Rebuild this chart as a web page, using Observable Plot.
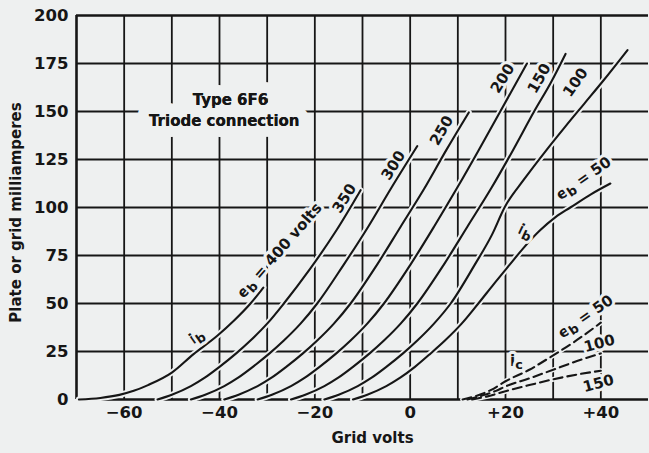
<!DOCTYPE html>
<html><head><meta charset="utf-8">
<script src="https://cdn.jsdelivr.net/npm/d3@7"></script>
<script src="https://cdn.jsdelivr.net/npm/@observablehq/plot@0.6"></script>
<style>
html,body{margin:0;padding:0;background:#eef0f0;}
#chart svg{display:block;}
</style></head><body><div id="chart"></div>
<script>
const BG = "#eef0f0";
const INK = "#161616";

// Plate current ib curves, [grid volts, plate mA], one per plate voltage eb
const ib400 = [[-69.5,0],[-65,0.8],[-61,2.4],[-58,4.5],[-55,7.5],[-50,14],[-45.5,23.5],[-40.4,33.3],[-37,41],[-33.5,50],[-30.8,58.3]];
const ib350 = [[-53,0],[-50,2.5],[-46,7],[-43,11.5],[-40,17],[-36.5,24],[-33.5,30.7],[-30,39.5],[-26.5,50],[-21,68],[-15.5,88],[-10.4,109]];
const ib300 = [[-46,0],[-43,2.5],[-39,7],[-36,11.5],[-33,17],[-29.5,24],[-26.5,30.7],[-23,39.5],[-19.5,50],[-14,70],[-8.8,90],[-4,110],[1.5,132]];
const ib250 = [[-39,0],[-36,2.5],[-32,7],[-29,11.5],[-26,17],[-22.5,24],[-19.5,30.7],[-16,39.5],[-12.5,50],[-7,70],[-2,90],[3,110],[7.6,130],[12.3,149.5]];
const ib200 = [[-32,0],[-29,2.5],[-25,7],[-22,11.5],[-19,17],[-15.5,24],[-12.5,30.7],[-9,39.5],[-5.5,50],[0,70],[5,90],[9.8,110],[14.4,130],[18.9,150],[24.5,175]];
const ib150 = [[-25,0],[-22,2.5],[-18,7],[-15,11.5],[-12,17],[-8.5,24],[-5.5,30.7],[-2,39.5],[1.5,50],[7,70],[12,90],[17,110],[21.6,130],[26,150],[29.5,165],[32.6,180]];
const ib100 = [[-18,0],[-15,2.5],[-11,7],[-8,11.5],[-5,17],[-1.5,24],[1.5,30.7],[5,39.5],[8.5,50],[13.5,70],[17.2,86],[19.8,100],[24,115],[28.3,129],[32.5,142],[36.5,154],[40.5,166],[45.6,182]];
const ib50  = [[-12,0],[-9,2.5],[-5,7],[-2,11.5],[1,17],[4.3,24],[7.3,30.7],[10.8,39.5],[14.3,50],[17.5,60],[20.8,70],[23.8,79],[27.2,88],[30.5,95],[33.6,100],[38,107],[42,112.5]];

// Grid current ic curves (dashed)
const ic50  = [[11,0],[14,2],[17,5],[20,9.5],[25,15.5],[30,23],[35,31],[40,40]];
const ic100 = [[12,0],[15,2],[18,4.5],[20,6.8],[25,11],[30,15.5],[35,20],[40,24]];
const ic150 = [[13,0],[16,1.5],[20,4.3],[25,7.5],[30,10.5],[35,13],[40,15]];

const plateVolts = [400, 350, 300, 250, 200, 150, 100, 50];
const ibSeries = [ib400, ib350, ib300, ib250, ib200, ib150, ib100, ib50];
const gridPlateVolts = [50, 100, 150];
const icSeries = [ic50, ic100, ic150];

const xTicks = [-60, -40, -20, 0, 20, 40];
const yTicks = [0, 25, 50, 75, 100, 125, 150, 175, 200];
const xGrid = [-60, -50, -40, -30, -20, -10, 0, 10, 20, 30, 40];
const yGrid = [25, 50, 75, 100, 125, 150, 175];
const xFrame = [-70];
const yFrame = [0, 200];

// Curve and note annotations
const curveLabels = [
  {t: "eb = 400 volts", v: -27.4, ma: 77.6, r: -49},
  {t: "350", v: -13.8, ma: 104.7, r: -58},
  {t: "300", v: -3.5, ma: 121.9, r: -58},
  {t: "250", v: 6.6, ma: 140.1, r: -60},
  {t: "200", v: 19.4, ma: 167.2, r: -58},
  {t: "150", v: 27.1, ma: 167.2, r: -60},
  {t: "100", v: 34.7, ma: 165.1, r: -55},
  {t: "eb = 50", v: 36.4, ma: 115.1, r: -35},
  {t: "ib", v: -44.8, ma: 32.8, r: -35},
  {t: "ib", v: 24.2, ma: 87.5, r: 25},
  {t: "ic", v: 22.3, ma: 19.8, r: 0},
  {t: "eb = 50", v: 36.8, ma: 43.2, r: -35},
  {t: "100", v: 39.7, ma: 29.2, r: -15},
  {t: "150", v: 39.5, ma: 8.3, r: -15}
];
const noteLines = [
  {t: "Type 6F6", v: -37.7, ma: 155.7},
  {t: "Triode connection", v: -39.0, ma: 144.8}
];

const ibRows = plateVolts.flatMap((eb, i) => ibSeries[i].map(([v, ma]) => ({eb, v, ma})));
const icRows = gridPlateVolts.flatMap((eb, i) => icSeries[i].map(([v, ma]) => ({eb, v, ma})));

const fmtX = d => d > 0 ? "+" + d : d < 0 ? "\u2212" + (-d) : "0";

const chart = Plot.plot({
  width: 649,
  height: 453,
  marginLeft: 76,
  marginRight: 1,
  marginTop: 15,
  marginBottom: 54,
  x: {domain: [-70, 50]},
  y: {domain: [0, 200]},
  style: {fontFamily: "'DejaVu Sans', sans-serif", fontSize: "16.5px", fontWeight: "bold", background: BG, color: INK, overflow: "visible"},
  marks: [
    Plot.ruleX(xGrid, {stroke: INK, strokeWidth: 1.8}),
    Plot.ruleY(yGrid, {stroke: INK, strokeWidth: 1.8}),
    Plot.ruleX(xFrame, {stroke: INK, strokeWidth: 2.6}),
    Plot.ruleY(yFrame, {stroke: INK, strokeWidth: 2.6}),
    Plot.line(ibRows, {x: "v", y: "ma", z: "eb", stroke: BG, strokeWidth: 6, curve: "monotone-x"}),
    Plot.line(icRows, {x: "v", y: "ma", z: "eb", stroke: BG, strokeWidth: 5, curve: "monotone-x"}),
    Plot.line(ibRows, {x: "v", y: "ma", z: "eb", stroke: INK, strokeWidth: 2.1, curve: "monotone-x"}),
    Plot.line(icRows, {x: "v", y: "ma", z: "eb", stroke: INK, strokeWidth: 2.1, strokeDasharray: "9,5", curve: "monotone-x"}),
    Plot.text(noteLines, {x: "v", y: "ma", text: "t", fill: INK, stroke: BG, strokeWidth: 22, fontSize: 15}),
    Plot.text(noteLines, {x: "v", y: "ma", text: "t", fill: INK, fontSize: 15}),
    Plot.text(curveLabels, {x: "v", y: "ma", text: "t", rotate: "r", fill: INK, stroke: BG, strokeWidth: 6, fontSize: 15}),
    Plot.axisX(xTicks, {tickSize: 0, tickPadding: 7, tickFormat: fmtX, label: null, fontSize: 16.5}),
    Plot.axisY(yTicks, {tickSize: 0, tickPadding: 8, label: null, fontSize: 16.5}),
    Plot.text(["Grid volts"], {frameAnchor: "bottom", textAnchor: "middle", dx: 10, dy: 43, fontSize: 15, fill: INK}),
    Plot.text(["Plate or grid milliamperes"], {frameAnchor: "left", textAnchor: "middle", dx: -60, dy: 5, rotate: -90, fontSize: 15, fill: INK})
  ]
});

// Subscript the b / c in eb, ib, ic labels
chart.querySelectorAll("text").forEach(el => {
  const s = el.textContent;
  const m = /^([ei])([bc])(.*)$/.exec(s);
  if (!m || el.children.length) return;
  el.textContent = "";
  const ns = "http://www.w3.org/2000/svg";
  const a = document.createElementNS(ns, "tspan"); a.textContent = m[1];
  const b = document.createElementNS(ns, "tspan"); b.textContent = m[2];
  b.setAttribute("dy", "0.25em"); b.setAttribute("font-size", "0.85em");
  el.appendChild(a); el.appendChild(b);
  if (m[3]) {
    const c = document.createElementNS(ns, "tspan"); c.textContent = m[3];
    c.setAttribute("dy", "-0.21em");
    el.appendChild(c);
  }
});

document.getElementById("chart").appendChild(chart);
</script></body></html>
